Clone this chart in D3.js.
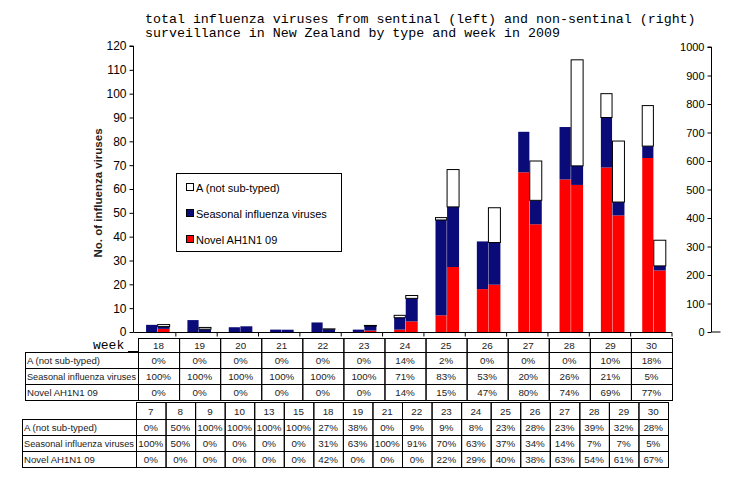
<!DOCTYPE html>
<html>
<head>
<meta charset="utf-8">
<script src="https://cdn.jsdelivr.net/npm/d3@7"></script>
<style>
  body { margin: 0; background: #fff; }
  svg { display: block; }
</style>
</head>
<body>
<svg id="chart" width="750" height="500"></svg>
<script>
// ---------- data ----------
const weeks = [18, 19, 20, 21, 22, 23, 24, 25, 26, 27, 28, 29, 30];
// sentinel surveillance (left axis)
const sentNovel    = [0, 0, 0, 0, 0, 0, 1, 7, 18, 67, 64, 69, 73];
const sentSeasonal = [3, 5, 2, 1, 4, 1, 5, 40, 20, 17, 22, 21, 5];
const sentA        = [0, 0, 0, 0, 0, 0, 1, 1, 0, 0, 0, 10, 17];
// non-sentinel surveillance (right axis)
const nonNovel     = [11, 0, 0, 0, 0, 5, 37, 228, 166, 378, 516, 409, 216];
const nonSeasonal  = [8, 10, 20, 8, 10, 16, 81, 211, 148, 84, 67, 47, 16];
const nonA         = [7, 6, 0, 0, 1, 2, 10, 131, 122, 138, 372, 214, 90];

const leftTicks  = [0, 10, 20, 30, 40, 50, 60, 70, 80, 90, 100, 110, 120];
const rightTicks = [0, 100, 200, 300, 400, 500, 600, 700, 800, 900, 1000];

const seriesNames = ["A (not sub-typed)", "Seasonal influenza viruses", "Novel AH1N1 09"];
const titleLines = [
  "total influenza viruses from sentinal (left) and non-sentinal (right)",
  "surveillance in New Zealand by type and week in 2009"
];
const yLabel = "No. of influenza viruses";

// table 1 (sentinel percentages)
const t1A        = ["0%","0%","0%","0%","0%","0%","14%","2%","0%","0%","0%","10%","18%"];
const t1Seasonal = ["100%","100%","100%","100%","100%","100%","71%","83%","53%","20%","26%","21%","5%"];
const t1Novel    = ["0%","0%","0%","0%","0%","0%","14%","15%","47%","80%","74%","69%","77%"];

// table 2 (non-sentinel percentages)
const t2Weeks    = [7, 8, 9, 10, 13, 15, 18, 19, 21, 22, 23, 24, 25, 26, 27, 28, 29, 30];
const t2A        = ["0%","50%","100%","100%","100%","100%","27%","38%","0%","9%","9%","8%","23%","28%","23%","39%","32%","28%"];
const t2Seasonal = ["100%","50%","0%","0%","0%","0%","31%","63%","100%","91%","70%","63%","37%","34%","14%","7%","7%","5%"];
const t2Novel    = ["0%","0%","0%","0%","0%","0%","42%","0%","0%","0%","22%","29%","40%","38%","63%","54%","61%","67%"];

// ---------- drawing ----------
const svg = d3.select("#chart");
const SANS = "'Liberation Sans', Arial, sans-serif";
const MONO = "'Liberation Mono', 'Courier New', monospace";
const NAVY = "#0a0a78", RED = "#ff0000";
const TFS = 9.8;   // table cell font size
const LFS = 9.6;   // table row label font size

// title
svg.append("g").selectAll("text").data(titleLines).join("text")
  .attr("x", 145).attr("y", (d, i) => 23 + i * 13.5)
  .attr("font-family", MONO).attr("font-size", 13.3).attr("fill", "#000")
  .attr("xml:space", "preserve")
  .text(d => d);

const x = d3.scaleBand().domain(weeks).range([134.5, 672]).paddingInner(0).paddingOuter(0);
const yL = d3.scaleLinear().domain([0, 120]).range([332, 46]);
const yR = d3.scaleLinear().domain([0, 1000]).range([332, 47]);

// stacked bar data
function stackFor(novel, seas, a) {
  return weeks.map((w, i) => {
    const segs = [];
    let base = 0;
    [[novel[i], RED], [seas[i], NAVY], [a[i], "#fff"]].forEach(([v, c]) => {
      segs.push({ w, y0: base, y1: base + v, color: c });
      base += v;
    });
    return segs;
  }).flat().filter(s => s.y1 > s.y0);
}

const bw = x.bandwidth();
const sentSegs = stackFor(sentNovel, sentSeasonal, sentA);
const nonSegs = stackFor(nonNovel, nonSeasonal, nonA);

svg.append("g").selectAll("rect").data(sentSegs).join("rect")
  .attr("x", d => x(d.w) + bw * 0.28)
  .attr("width", bw * 0.27)
  .attr("y", d => yL(d.y1))
  .attr("height", d => yL(d.y0) - yL(d.y1))
  .attr("fill", d => d.color)
  .attr("stroke", d => d.color === "#fff" ? "#000" : "none")
  .attr("stroke-width", 1);

svg.append("g").selectAll("rect").data(nonSegs).join("rect")
  .attr("x", d => x(d.w) + bw * 0.56)
  .attr("width", bw * 0.29)
  .attr("y", d => yR(d.y1))
  .attr("height", d => yR(d.y0) - yR(d.y1))
  .attr("fill", d => d.color)
  .attr("stroke", d => d.color === "#fff" ? "#000" : "none")
  .attr("stroke-width", 1);

// left axis
const gL = svg.append("g").attr("transform", "translate(133.5,0)")
  .call(d3.axisLeft(yL).tickValues(leftTicks).tickFormat(d3.format("d")).tickSize(4).tickPadding(3));
gL.select(".domain").attr("stroke", "#000").attr("d", `M-4,${yL(120)}H0V${yL(0)}`);
gL.selectAll("text").attr("font-family", SANS).attr("font-size", 12).attr("fill", "#000");

// right axis
const gR = svg.append("g").attr("transform", "translate(711.5,0)")
  .call(d3.axisLeft(yR).tickValues(rightTicks).tickFormat(d3.format("d")).tickSize(4).tickPadding(3));
gR.select(".domain").attr("stroke", "#000").attr("d", `M-4,${yR(1000)}H0V${yR(0)}`);
gR.selectAll("text").attr("font-family", SANS).attr("font-size", 11).attr("fill", "#000");
gR.append("line").attr("x1", 0).attr("x2", 9).attr("y1", yR(0)).attr("y2", yR(0)).attr("stroke", "#000");

// x axis line and band ticks
const gX = svg.append("g");
gX.append("line").attr("x1", 133.5).attr("x2", 672).attr("y1", 332.5).attr("y2", 332.5).attr("stroke", "#000");
gX.selectAll("line.t").data(weeks).join("line").attr("class", "t")
  .attr("x1", d => x(d) + bw).attr("x2", d => x(d) + bw)
  .attr("y1", 332.5).attr("y2", 336.5).attr("stroke", "#000");

// y label
svg.append("text")
  .attr("transform", `translate(102,${(yL(0) + yL(120)) / 2 + 4}) rotate(-90)`)
  .attr("text-anchor", "middle")
  .attr("font-family", SANS).attr("font-size", 11.5).attr("font-weight", "bold").attr("fill", "#222")
  .text(yLabel);

// legend
const lg = svg.append("g");
lg.append("rect").attr("x", 176.5).attr("y", 173.5).attr("width", 165).attr("height", 78)
  .attr("fill", "#fff").attr("stroke", "#000");
const legendColors = ["#fff", NAVY, RED];
seriesNames.forEach((n, i) => {
  lg.append("rect").attr("x", 186.5).attr("y", 183.5 + i * 26).attr("width", 7).attr("height", 7)
    .attr("fill", legendColors[i]).attr("stroke", "#000");
  lg.append("text").attr("x", 196).attr("y", 191.5 + i * 26)
    .attr("font-family", SANS).attr("font-size", 11).attr("fill", "#000").text(n);
});

// ---------- tables ----------
function drawTable(g, colLabels, rows, labelX0, colX0, colX1, rowYs) {
  const cx = d3.scaleBand().domain(d3.range(colLabels.length)).range([colX0, colX1]);
  const cw = cx.bandwidth();
  colLabels.forEach((c, j) => {
    g.append("rect").attr("x", cx(j) + 0.5).attr("y", rowYs[0] + 0.5).attr("width", cw).attr("height", rowYs[1] - rowYs[0])
      .attr("fill", "none").attr("stroke", "#000");
    g.append("text").attr("x", cx(j) + cw / 2).attr("y", (rowYs[0] + rowYs[1]) / 2 + 4)
      .attr("text-anchor", "middle").attr("font-family", SANS).attr("font-size", TFS).attr("fill", "#222").text(c);
  });
  rows.forEach((r, i) => {
    const y0 = rowYs[i + 1], y1 = rowYs[i + 2];
    g.append("rect").attr("x", labelX0 + 0.5).attr("y", y0 + 0.5).attr("width", colX0 - labelX0).attr("height", y1 - y0)
      .attr("fill", "none").attr("stroke", "#000");
    const lbl = g.append("text").attr("x", labelX0 + 2).attr("y", (y0 + y1) / 2 + 4)
      .attr("font-family", SANS).attr("font-size", LFS).attr("fill", "#222").text(seriesNames[i]);
    const maxW = colX0 - labelX0 - 4;
    if (lbl.node().getComputedTextLength() > maxW) lbl.attr("textLength", maxW).attr("lengthAdjust", "spacingAndGlyphs");
    r.forEach((v, j) => {
      g.append("rect").attr("x", cx(j) + 0.5).attr("y", y0 + 0.5).attr("width", cw).attr("height", y1 - y0)
        .attr("fill", "none").attr("stroke", "#000");
      const t = g.append("text").attr("x", cx(j) + cw / 2).attr("y", (y0 + y1) / 2 + 4)
        .attr("text-anchor", "middle").attr("font-family", SANS).attr("font-size", TFS).attr("fill", "#222").text(v);
      if (t.node().getComputedTextLength() > cw - 2) t.attr("textLength", cw - 2).attr("lengthAdjust", "spacingAndGlyphs");
    });
  });
}

const t1 = svg.append("g");
drawTable(t1, weeks, [t1A, t1Seasonal, t1Novel], 25, 138, 672, [338, 352, 368, 384, 400]);
t1.append("text").attr("x", 93).attr("y", 348.5).attr("font-family", MONO).attr("font-size", 13).attr("fill", "#000").text("week");
t1.append("line").attr("x1", 128).attr("x2", 138).attr("y1", 351.5).attr("y2", 351.5).attr("stroke", "#000");

const t2 = svg.append("g");
drawTable(t2, t2Weeks, [t2A, t2Seasonal, t2Novel], 22, 136, 668, [402, 419, 435, 451, 467]);
</script>
</body>
</html>
